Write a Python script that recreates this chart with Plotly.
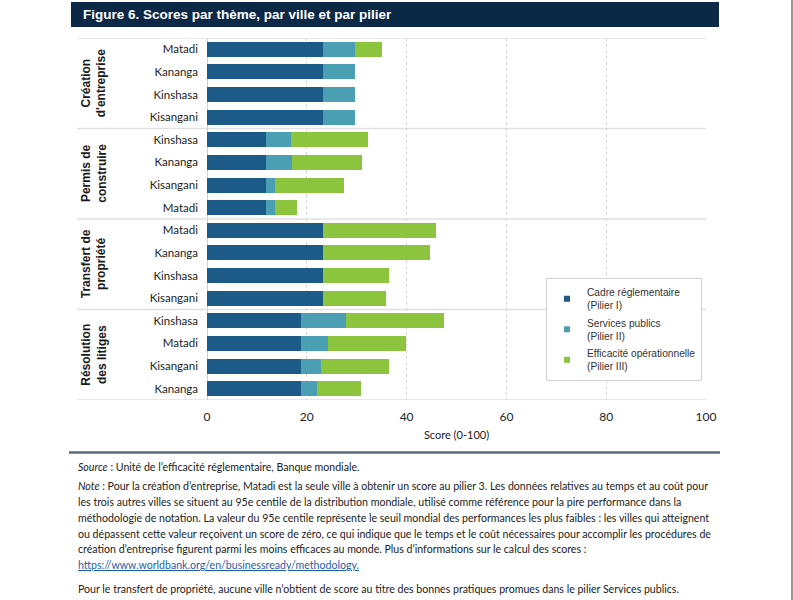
import plotly.graph_objects as go

# ---------------- data ----------------
title_text = "Figure 6. Scores par thème, par ville et par pilier"
themes = ["Création<br>d'entreprise", "Permis de<br>construire",
          "Transfert de<br>propriété", "Résolution<br>des litiges"]
theme_sizes = [4, 4, 4, 4]
cities = ["Matadi", "Kananga", "Kinshasa", "Kisangani",
          "Kinshasa", "Kananga", "Kisangani", "Matadi",
          "Matadi", "Kananga", "Kinshasa", "Kisangani",
          "Kinshasa", "Matadi", "Kisangani", "Kananga"]
pilier1 = [23.3, 23.3, 23.3, 23.3,
           11.8, 11.8, 11.8, 11.8,
           23.3, 23.3, 23.3, 23.3,
           18.8, 18.8, 18.8, 18.8]
pilier2 = [6.3, 6.3, 6.3, 6.3,
           5.1, 5.3, 1.8, 1.8,
           0.0, 0.0, 0.0, 0.0,
           9.0, 5.4, 4.1, 3.2]
pilier3 = [5.5, 0.0, 0.0, 0.0,
           15.3, 13.9, 13.8, 4.4,
           22.5, 21.4, 13.2, 12.6,
           19.7, 15.6, 13.6, 8.9]
series_names = ["Cadre réglementaire<br>(Pilier I)",
                "Services publics<br>(Pilier II)",
                "Efficacité opérationnelle<br>(Pilier III)"]
x_ticks = [0, 20, 40, 60, 80, 100]
x_title = "Score (0-100)"
notes = [
    "<i>Source</i> : Unité de l’efficacité réglementaire, Banque mondiale.",
    "<i>Note</i> : Pour la création d’entreprise, Matadi est la seule ville à obtenir un score au pilier 3. Les données relatives au temps et au coût pour",
    "les trois autres villes se situent au 95e centile de la distribution mondiale, utilisé comme référence pour la pire performance dans la",
    "méthodologie de notation. La valeur du 95e centile représente le seuil mondial des performances les plus faibles : les villes qui atteignent",
    "ou dépassent cette valeur reçoivent un score de zéro, ce qui indique que le temps et le coût nécessaires pour accomplir les procédures de",
    "création d’entreprise figurent parmi les moins efficaces au monde. Plus d’informations sur le calcul des scores :",
    "<span style='color:#1f5fa8;text-decoration:underline'>https://www.worldbank.org/en/businessready/methodology.</span>",
    "Pour le transfert de propriété, aucune ville n’obtient de score au titre des bonnes pratiques promues dans le pilier Services publics.",
]
note_y_px = [467, 486, 502, 518, 534, 549, 565, 589]

# ---------------- style ----------------
colors = ["#1c5a87", "#4a9fb2", "#8dc43e"]
W, H = 793, 600
L, R, T, B = 207, 706, 38, 400   # plot area in pixels


def px(xp):
    return (xp - L) / (R - L)


def py(yp):
    return (B - yp) / (B - T)


ypos = list(range(len(cities)))

fig = go.Figure()
for vals, name, col in zip([pilier1, pilier2, pilier3], series_names, colors):
    fig.add_trace(go.Bar(
        x=vals, y=ypos, orientation="h", name=name,
        marker=dict(color=col, line=dict(width=0)),
        width=0.66, showlegend=False, hoverinfo="x+name"))
for i, (name, col) in enumerate(zip(series_names, colors)):
    fig.add_trace(go.Scatter(
        x=[None], y=[None], mode="markers", name=name, legendgroup="g%d" % i,
        marker=dict(symbol="square", size=6, color=col)))

shapes = []
# title bar
shapes.append(dict(type="rect", xref="paper", yref="paper",
                   x0=px(71), x1=px(719), y0=py(27), y1=py(2),
                   fillcolor="#0b2846", line=dict(width=0), layer="below"))
# group separators
bounds = [-0.5]
acc = -0.5
for s in theme_sizes:
    acc += s
    bounds.append(acc)
for b in bounds:
    shapes.append(dict(type="line", xref="paper", yref="y",
                       x0=px(77), x1=1.0, y0=b, y1=b,
                       line=dict(color="#e1e1e1", width=1.5), layer="below"))
# bottom rule
shapes.append(dict(type="line", xref="paper", yref="paper",
                   x0=px(69), x1=px(720), y0=py(452.5), y1=py(452.5),
                   line=dict(color="#5c6b7a", width=2.5)))
# page right edge
shapes.append(dict(type="line", xref="paper", yref="paper",
                   x0=px(792), x1=px(792), y0=py(600), y1=py(0),
                   line=dict(color="#777777", width=1.5)))

annotations = []
annotations.append(dict(text="<b>" + title_text + "</b>", xref="paper", yref="paper",
                        x=px(81), y=py(14.5), xanchor="left", yanchor="middle",
                        showarrow=False,
                        font=dict(family="Liberation Sans, Arial", size=13.5, color="white")))
start = 0
for t, s in zip(themes, theme_sizes):
    center = start + (s - 1) / 2
    annotations.append(dict(text="<b>" + t + "</b>", xref="paper", yref="y",
                            x=px(94), y=center, xanchor="center", yanchor="middle",
                            textangle=-90, showarrow=False,
                            font=dict(family="Liberation Sans, Arial", size=12, color="#1a1a1a")))
    start += s
for txt, yy in zip(notes, note_y_px):
    annotations.append(dict(text=txt, xref="paper", yref="paper",
                            x=px(76), y=py(yy), xanchor="left", yanchor="middle",
                            showarrow=False, align="left",
                            font=dict(family="Lato, Open Sans", size=10.6, color="#222222")))

fig.update_layout(
    width=W, height=H, autosize=False,
    margin=dict(l=L, r=W - R, t=T, b=H - B, pad=0),
    paper_bgcolor="white", plot_bgcolor="white",
    barmode="stack", bargap=0.34,
    shapes=shapes, annotations=annotations,
    showlegend=True,
    legend=dict(x=px(546), y=py(278), xanchor="left", yanchor="top",
                bgcolor="white", bordercolor="#d4d4d4", borderwidth=1,
                font=dict(family="Liberation Sans, Arial", size=10.2, color="#333333"),
                itemsizing="trace", traceorder="grouped", tracegroupgap=1,
                itemwidth=30),
    xaxis=dict(range=[0, 100], tickvals=x_ticks, ticktext=[str(v) for v in x_ticks],
               showgrid=True, gridcolor="#d6d6d6", griddash="dot", gridwidth=1,
               zeroline=True, zerolinecolor="#cfcfcf", zerolinewidth=1,
               showline=False, ticks="", ticklabelstandoff=8,
               tickfont=dict(family="Lato, Open Sans", size=12, color="#222222"),
               title=dict(text=x_title, standoff=8,
                          font=dict(family="Lato, Open Sans", size=11, color="#222222")),
               fixedrange=True),
    yaxis=dict(range=[len(cities) - 0.5, -0.5], tickvals=ypos, ticktext=cities,
               showgrid=False, zeroline=False, showline=False, ticks="",
               ticklabelstandoff=8,
               tickfont=dict(family="Lato, Open Sans", size=11.5, color="#222222"),
               fixedrange=True),
)

fig.write_html("out.html")
